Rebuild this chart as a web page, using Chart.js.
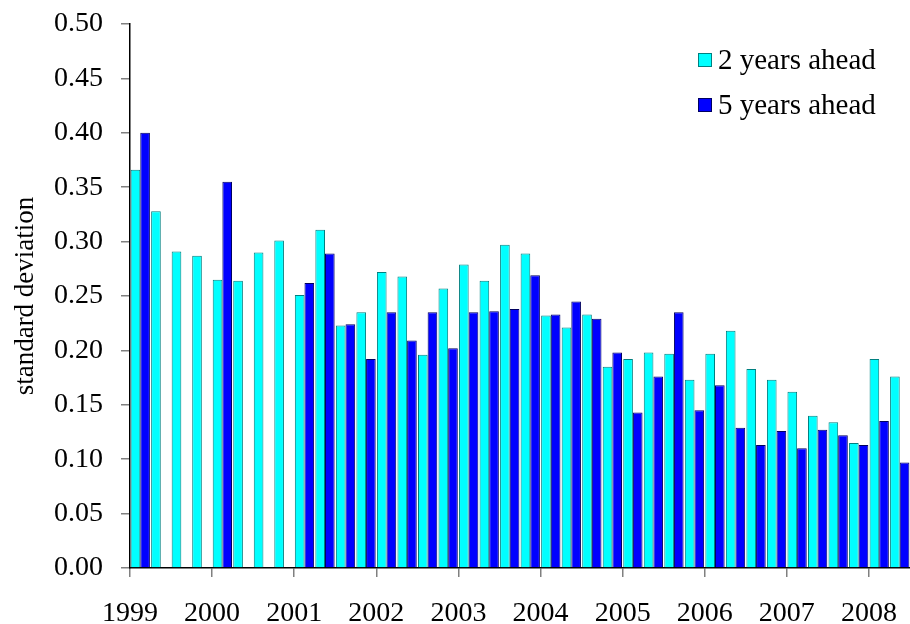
<!DOCTYPE html>
<html>
<head>
<meta charset="utf-8">
<script src="https://cdn.jsdelivr.net/npm/chart.js@4.4.1/dist/chart.umd.min.js"></script>
<style>
  html, body { margin: 0; padding: 0; background: #fff; }
  #wrap { width: 910px; height: 624px; }
</style>
</head>
<body>
<div id="wrap"><canvas id="canvas" width="910" height="624"></canvas></div>
<script>
// quarterly observations, 1999Q1 .. 2008Q2
const quarters = [
  "1999Q1", "1999Q2", "1999Q3", "1999Q4", "2000Q1", "2000Q2", "2000Q3", "2000Q4",
  "2001Q1", "2001Q2", "2001Q3", "2001Q4", "2002Q1", "2002Q2", "2002Q3", "2002Q4",
  "2003Q1", "2003Q2", "2003Q3", "2003Q4", "2004Q1", "2004Q2", "2004Q3", "2004Q4",
  "2005Q1", "2005Q2", "2005Q3", "2005Q4", "2006Q1", "2006Q2", "2006Q3", "2006Q4",
  "2007Q1", "2007Q2", "2007Q3", "2007Q4", "2008Q1", "2008Q2"
];
const yearLabels = ["1999", "2000", "2001", "2002", "2003", "2004", "2005", "2006", "2007", "2008"];

const twoYearsAhead = [
  0.366, 0.328, 0.291, 0.287, 0.265, 0.264, 0.290, 0.301,
  0.251, 0.311, 0.223, 0.235, 0.272, 0.268, 0.196, 0.257,
  0.279, 0.264, 0.297, 0.289, 0.232, 0.221, 0.233, 0.185,
  0.192, 0.198, 0.197, 0.173, 0.197, 0.218, 0.183, 0.173,
  0.162, 0.140, 0.134, 0.115, 0.192, 0.176
];
const fiveYearsAhead = [
  0.400, null, null, null, 0.355, null, null, null,
  0.262, 0.289, 0.224, 0.192, 0.235, 0.209, 0.235, 0.202,
  0.235, 0.236, 0.238, 0.269, 0.233, 0.245, 0.229, 0.198,
  0.143, 0.176, 0.235, 0.145, 0.168, 0.129, 0.113, 0.126,
  0.110, 0.127, 0.122, 0.113, 0.135, 0.097
];
const seriesNames = ["2 years ahead", "5 years ahead"];

const serif = "'Liberation Serif', 'Times New Roman', serif";

// legend sits inside the plot, top right (drawn from the datasets)
const insideLegend = {
  id: "insideLegend",
  afterDraw(chart) {
    const ctx = chart.ctx;
    ctx.save();
    ctx.font = "29px " + serif;
    ctx.textBaseline = "middle";
    ctx.textAlign = "left";
    chart.data.datasets.forEach((ds, i) => {
      const y = 60 + i * 45;
      ctx.fillStyle = ds.backgroundColor;
      ctx.fillRect(698, y - 7, 14, 14);
      ctx.strokeStyle = ds.borderColor;
      ctx.lineWidth = 1;
      ctx.strokeRect(698.5, y - 6.5, 13, 13);
      ctx.fillStyle = "#000";
      ctx.fillText(ds.label, 718, y + 1);
    });
    ctx.restore();
  }
};

const ctx = document.getElementById("canvas").getContext("2d");
new Chart(ctx, {
  type: "bar",
  data: {
    labels: quarters,
    datasets: [
      {
        label: seriesNames[0],
        data: twoYearsAhead,
        backgroundColor: "#00ffff",
        borderColor: "#008080",
        borderWidth: 1,
        categoryPercentage: 0.94,
        barPercentage: 1.0
      },
      {
        label: seriesNames[1],
        data: fiveYearsAhead,
        backgroundColor: "#0000ff",
        borderColor: "#000060",
        borderWidth: 1,
        categoryPercentage: 0.94,
        barPercentage: 1.0
      }
    ]
  },
  options: {
    responsive: false,
    animation: false,
    layout: { padding: { top: 24, right: 0, left: 0, bottom: 0 } },
    plugins: {
      legend: { display: false },
      tooltip: { enabled: false }
    },
    scales: {
      x: {
        display: false
      },
      years: {
        type: "linear",
        position: "bottom",
        offset: false,
        min: 0,
        max: quarters.length,
        afterBuildTicks: axis => {
          // one tick at the start of every year, plus the closing edge
          axis.ticks = yearLabels.map((y, i) => ({ value: i * 4 }));
          axis.ticks.push({ value: quarters.length });
        },
        afterFit: axis => {
          axis.height = 56;
          axis.paddingRight = 0;
        },
        ticks: {
          callback: v => yearLabels[v / 4] || "",
          color: "#000",
          font: { family: serif, size: 28 },
          padding: 20,
          maxRotation: 0,
          autoSkip: false
        },
        grid: {
          offset: false,
          drawOnChartArea: false,
          tickLength: 9,
          color: c => (c.tick && c.tick.value === quarters.length ? "rgba(0,0,0,0)" : "#808080"),
          lineWidth: 1.5
        },
        border: { display: true, color: "#000", width: 1.5 }
      },
      y: {
        min: 0,
        max: 0.5,
        afterFit: axis => {
          axis.width = 130;
          axis.paddingTop = 0;
          axis.paddingBottom = 0;
        },
        ticks: {
          stepSize: 0.05,
          callback: v => v.toFixed(2),
          color: "#000",
          font: { family: serif, size: 28 },
          padding: 18
        },
        grid: {
          drawOnChartArea: false,
          tickLength: 9,
          color: "#808080",
          lineWidth: 1.5
        },
        border: { display: true, color: "#000", width: 1.5 },
        title: {
          display: true,
          text: "standard deviation",
          color: "#000",
          font: { family: serif, size: 27 },
          padding: { top: 10, bottom: 0 }
        }
      }
    }
  },
  plugins: [insideLegend]
});
</script>
</body>
</html>
